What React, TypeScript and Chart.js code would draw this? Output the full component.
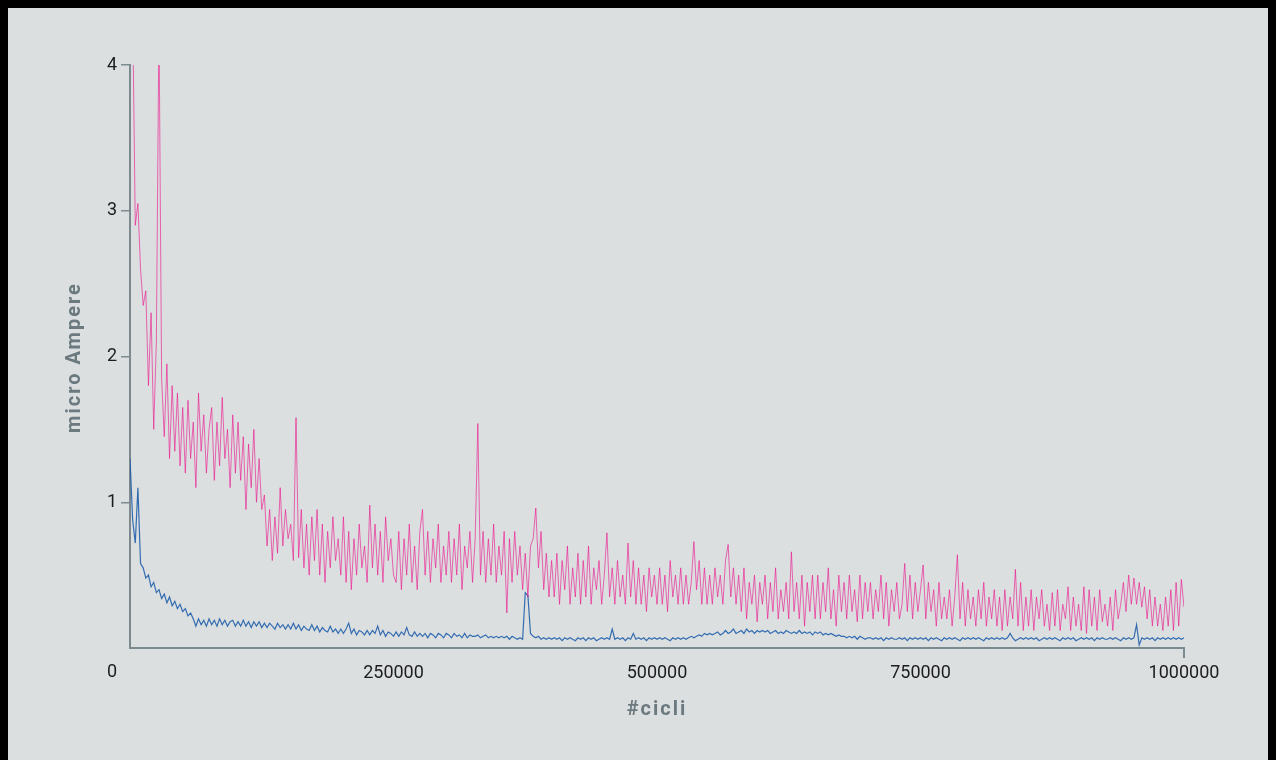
import React, { useEffect, useRef } from "react";
import { Chart, registerables } from "chart.js";

Chart.register(...registerables);

// sampling step along the x axis (cycles)
const cycleStep = 2500;

// series "pink" (upper curve), one value per 2500 cycles, 0 .. 1 000 000
const pinkValues = [
  4.5,
  4.4, 2.9, 3.05, 2.6, 2.35, 2.45, 1.8, 2.3, 1.5, 2.1,
  4.3, 1.85, 1.45, 1.95, 1.3, 1.8, 1.35, 1.75, 1.25, 1.65,
  1.2, 1.7, 1.3, 1.55, 1.1, 1.75, 1.35, 1.6, 1.2, 1.5,
  1.65, 1.15, 1.55, 1.25, 1.72, 1.3, 1.5, 1.1, 1.6, 1.2,
  1.55, 1.15, 1.45, 0.95, 1.4, 1.1, 1.5, 1.0, 1.3, 0.95,
  1.05, 0.7, 0.95, 0.6, 0.9, 0.65, 1.1, 0.7, 0.95, 0.75,
  0.85, 0.6, 1.58, 0.62, 0.95, 0.55, 0.85, 0.5, 0.9, 0.6,
  0.95, 0.5, 0.85, 0.45, 0.8, 0.55, 0.9, 0.6, 0.75, 0.5,
  0.9, 0.45, 0.8, 0.4, 0.75, 0.5, 0.85, 0.55, 0.7, 0.45,
  0.98, 0.55, 0.85, 0.5, 0.8, 0.45, 0.9, 0.6, 0.75, 0.5,
  0.45, 0.8, 0.4, 0.75, 0.5, 0.85, 0.45, 0.7, 0.4, 0.8,
  0.95, 0.5, 0.8, 0.45, 0.75, 0.55, 0.85, 0.45, 0.7, 0.5,
  0.8, 0.45, 0.75, 0.5, 0.85, 0.4, 0.7, 0.55, 0.8, 0.45,
  0.75, 1.54, 0.5, 0.8, 0.45, 0.75, 0.5, 0.85, 0.45, 0.7,
  0.5, 0.8, 0.24, 0.75, 0.45, 0.8, 0.5, 0.7, 0.4, 0.65,
  0.35, 0.7, 0.75, 0.96, 0.55, 0.8, 0.4, 0.65, 0.35, 0.6,
  0.35, 0.65, 0.3, 0.6, 0.4, 0.7, 0.3, 0.55, 0.35, 0.65,
  0.3, 0.6, 0.35, 0.7, 0.3, 0.55, 0.4, 0.6, 0.3, 0.5,
  0.79, 0.35, 0.55, 0.3, 0.6, 0.35, 0.5, 0.3, 0.72, 0.35,
  0.6, 0.3, 0.55, 0.3, 0.5, 0.25, 0.55, 0.35, 0.5, 0.3,
  0.55, 0.3, 0.5, 0.25, 0.6, 0.35, 0.5, 0.3, 0.55, 0.3,
  0.5, 0.3, 0.45, 0.73, 0.4, 0.6, 0.3, 0.55, 0.3, 0.5,
  0.3, 0.55, 0.35, 0.5, 0.3, 0.6, 0.71, 0.35, 0.55, 0.3,
  0.5, 0.25, 0.55, 0.2, 0.45, 0.3, 0.5, 0.18, 0.45, 0.3,
  0.5, 0.2, 0.45, 0.25, 0.55, 0.2, 0.4, 0.25, 0.45, 0.2,
  0.66, 0.25, 0.45, 0.2, 0.5, 0.15, 0.45, 0.25, 0.5, 0.2,
  0.5, 0.2, 0.45, 0.25, 0.55, 0.2, 0.4, 0.15, 0.5, 0.25,
  0.45, 0.2, 0.5, 0.25, 0.4, 0.18, 0.5, 0.2, 0.45, 0.25,
  0.45, 0.2, 0.4, 0.25, 0.5, 0.2, 0.45, 0.15, 0.4, 0.25,
  0.45, 0.2, 0.3, 0.58, 0.25, 0.5, 0.2, 0.45, 0.25, 0.4,
  0.57, 0.2, 0.45, 0.25, 0.4, 0.15, 0.45, 0.2, 0.35, 0.2,
  0.4, 0.15, 0.35, 0.64, 0.2, 0.45, 0.15, 0.4, 0.2, 0.35,
  0.15, 0.4, 0.2, 0.45, 0.15, 0.35, 0.2, 0.4, 0.15, 0.35,
  0.12, 0.4, 0.15, 0.35, 0.2, 0.54, 0.15, 0.45, 0.12, 0.35,
  0.15, 0.4, 0.12, 0.35, 0.2, 0.4, 0.15, 0.3, 0.12, 0.38,
  0.15, 0.4, 0.12, 0.3, 0.2, 0.42, 0.12, 0.35, 0.15, 0.3,
  0.12, 0.42, 0.1, 0.4, 0.15, 0.35, 0.12, 0.4, 0.18, 0.3,
  0.15, 0.35, 0.12, 0.4, 0.2, 0.3, 0.45, 0.25, 0.5, 0.3,
  0.48, 0.3, 0.45, 0.28, 0.42, 0.2, 0.4, 0.15, 0.35, 0.15,
  0.3, 0.12, 0.35, 0.15, 0.4, 0.12, 0.45, 0.15, 0.47, 0.28,
];

// series "blue" (lower curve), same sampling
const blueValues = [
  1.3,
  0.88, 0.72, 1.1, 0.58, 0.55, 0.48, 0.5, 0.42, 0.45, 0.38,
  0.4, 0.34, 0.37, 0.31, 0.35, 0.29, 0.32, 0.27, 0.3, 0.25,
  0.27, 0.22, 0.24, 0.2, 0.15, 0.2, 0.16, 0.19, 0.15, 0.2,
  0.16, 0.19, 0.15, 0.2, 0.16, 0.19, 0.15, 0.18, 0.19, 0.15,
  0.18, 0.15, 0.19, 0.15, 0.18, 0.14, 0.18, 0.15, 0.18, 0.14,
  0.17, 0.14, 0.17, 0.15, 0.13, 0.17, 0.14, 0.16, 0.13, 0.16,
  0.13, 0.17, 0.13, 0.16, 0.12, 0.15, 0.13, 0.12, 0.16, 0.12,
  0.15, 0.11, 0.14, 0.12, 0.11, 0.15, 0.11, 0.13, 0.1, 0.13,
  0.1, 0.13, 0.17, 0.1, 0.13, 0.09, 0.12, 0.11, 0.09, 0.12,
  0.09, 0.12, 0.1, 0.15, 0.09, 0.12, 0.08, 0.11, 0.1, 0.08,
  0.11, 0.08, 0.11, 0.09, 0.14, 0.09, 0.08, 0.11, 0.08, 0.1,
  0.08, 0.1, 0.07, 0.1, 0.09, 0.07, 0.1, 0.09, 0.07, 0.1,
  0.09, 0.07, 0.1, 0.08, 0.09, 0.07, 0.1, 0.07, 0.09, 0.08,
  0.08, 0.09, 0.07, 0.08, 0.09, 0.07, 0.08, 0.07, 0.08, 0.07,
  0.08, 0.07, 0.08, 0.06, 0.08, 0.07, 0.06, 0.07, 0.06, 0.38,
  0.36, 0.1, 0.08, 0.07, 0.08, 0.06, 0.07, 0.06, 0.07, 0.06,
  0.07, 0.06, 0.07, 0.05, 0.07, 0.06, 0.07, 0.06, 0.05, 0.07,
  0.06, 0.07, 0.05, 0.07, 0.06, 0.07, 0.05, 0.06, 0.07, 0.06,
  0.07, 0.06, 0.13, 0.06, 0.07, 0.06, 0.07, 0.05, 0.07, 0.06,
  0.1, 0.06, 0.07, 0.06, 0.07, 0.05, 0.07, 0.06, 0.07, 0.06,
  0.07, 0.06, 0.07, 0.06, 0.05, 0.07, 0.06, 0.07, 0.06, 0.07,
  0.06, 0.07, 0.08, 0.07, 0.08, 0.09, 0.08, 0.1, 0.09, 0.1,
  0.09, 0.1, 0.11, 0.09, 0.1, 0.12, 0.1, 0.11, 0.13, 0.1,
  0.11, 0.12, 0.1, 0.13, 0.11, 0.12, 0.1, 0.12, 0.11, 0.12,
  0.11, 0.12, 0.1, 0.11, 0.12, 0.1, 0.11, 0.1, 0.12, 0.11,
  0.1, 0.11, 0.1, 0.12, 0.1, 0.11, 0.1, 0.11, 0.09, 0.11,
  0.1, 0.11, 0.09, 0.1, 0.09, 0.1, 0.09, 0.08, 0.09, 0.08,
  0.08, 0.07, 0.08, 0.07, 0.08, 0.06, 0.08, 0.07, 0.06, 0.07,
  0.07, 0.06, 0.07, 0.06, 0.07, 0.05, 0.07, 0.06, 0.07, 0.06,
  0.06, 0.07, 0.06, 0.07, 0.05, 0.07, 0.06, 0.07, 0.06, 0.07,
  0.06, 0.07, 0.05, 0.07, 0.06, 0.07, 0.06, 0.05, 0.07, 0.06,
  0.07, 0.06, 0.07, 0.06, 0.05, 0.07, 0.06, 0.07, 0.06, 0.07,
  0.06, 0.07, 0.06, 0.05, 0.07, 0.06, 0.07, 0.06, 0.07, 0.06,
  0.07, 0.06, 0.07, 0.1, 0.07, 0.05, 0.06, 0.07, 0.06, 0.07,
  0.06, 0.07, 0.06, 0.07, 0.05, 0.06, 0.07, 0.06, 0.07, 0.06,
  0.07, 0.06, 0.05, 0.07, 0.06, 0.07, 0.06, 0.07, 0.05, 0.06,
  0.07, 0.06, 0.07, 0.06, 0.07, 0.05, 0.07, 0.06, 0.07, 0.06,
  0.06, 0.07, 0.06, 0.07, 0.06, 0.05, 0.07, 0.06, 0.07, 0.06,
  0.07, 0.16, 0.02, 0.07, 0.06, 0.07, 0.06, 0.07, 0.05, 0.07,
  0.06, 0.07, 0.06, 0.07, 0.06, 0.07, 0.06, 0.07, 0.06, 0.07,
];

const xTicks = [0, 250000, 500000, 750000, 1000000];
const yTicks = [0, 1, 2, 3, 4];
const xTitle = "#cicli";
const yTitle = "micro Ampere";

const axisColor = "#7c8a8f";
const tickTextColor = "#1c1c1c";
const titleColor = "#6c7a80";
const pinkColor = "rgba(236, 20, 140, 0.62)";
const blueColor = "rgba(22, 88, 168, 0.85)";
const bgColor = "#dbdfe0";

const toPoints = (vals: number[]) => vals.map((v, i) => ({ x: i * cycleStep, y: v }));

const extrasPlugin = {
  id: "extras",
  afterDraw(chart: any) {
    const { ctx, chartArea } = chart;
    ctx.save();
    // the "0" label sits below the axis corner
    ctx.font = "18px Roboto";
    ctx.fillStyle = tickTextColor;
    ctx.textAlign = "right";
    ctx.textBaseline = "middle";
    ctx.fillText(String(yTicks[0]), chartArea.left - 13, chartArea.bottom + 24);
    // axis titles
    ctx.font = "bold 20px Roboto";
    ctx.fillStyle = titleColor;
    (ctx as any).letterSpacing = "2px";
    ctx.textAlign = "center";
    ctx.textBaseline = "middle";
    ctx.fillText(xTitle, (chartArea.left + chartArea.right) / 2, chartArea.bottom + 62);
    ctx.translate(67, (chartArea.top + chartArea.bottom) / 2);
    ctx.rotate(-Math.PI / 2);
    ctx.fillText(yTitle, -1, 0);
    ctx.restore();
  },
};

export default function App() {
  const ref = useRef<HTMLCanvasElement | null>(null);
  useEffect(() => {
    document.documentElement.style.background = "#000";
    document.documentElement.style.overflow = "hidden";
    Chart.defaults.font.family = "Roboto";
    const chart = new Chart(ref.current as HTMLCanvasElement, {
      type: "line",
      data: {
        datasets: [
          {
            label: "pink",
            data: toPoints(pinkValues),
            borderColor: pinkColor,
            borderWidth: 1,
            pointRadius: 0,
            tension: 0,
          },
          {
            label: "blue",
            data: toPoints(blueValues),
            borderColor: blueColor,
            borderWidth: 1.2,
            pointRadius: 0,
            tension: 0,
          },
        ],
      },
      options: {
        animation: false,
        responsive: false,
        devicePixelRatio: 1,
        layout: { padding: { top: 57, right: 84, left: 0, bottom: 0 } },
        plugins: {
          legend: { display: false },
          tooltip: { enabled: false },
        },
        scales: {
          x: {
            type: "linear",
            min: xTicks[0],
            max: xTicks[xTicks.length - 1],
            afterFit: (s: any) => {
              s.height = 120;
            },
            afterBuildTicks: (s: any) => {
              s.ticks = xTicks.map((v) => ({ value: v }));
            },
            ticks: {
              padding: 5,
              color: tickTextColor,
              font: { size: 18, family: "Roboto" },
              maxRotation: 0,
              autoSkip: false,
              callback: (v: any) => (v === 0 ? "" : String(v)),
            },
            grid: {
              drawOnChartArea: false,
              drawTicks: true,
              tickLength: 10,
              lineWidth: 2,
              color: (c: any) =>
                c.tick && c.tick.value === xTicks[xTicks.length - 1] ? axisColor : "transparent",
            },
            border: { display: true, color: axisColor, width: 2 },
          },
          y: {
            type: "linear",
            min: yTicks[0],
            max: yTicks[yTicks.length - 1],
            afterFit: (s: any) => {
              s.width = 122;
            },
            afterBuildTicks: (s: any) => {
              s.ticks = yTicks.map((v) => ({ value: v }));
            },
            ticks: {
              padding: 4,
              color: tickTextColor,
              font: { size: 18, family: "Roboto" },
              callback: (v: any) => (v === 0 ? "" : String(v)),
            },
            grid: {
              drawOnChartArea: false,
              drawTicks: true,
              tickLength: 9,
              lineWidth: 1.5,
              color: (c: any) => (c.tick && c.tick.value === 0 ? "transparent" : axisColor),
            },
            border: { display: true, color: axisColor, width: 2 },
          },
        },
      },
      plugins: [extrasPlugin],
    } as any);
    return () => chart.destroy();
  }, []);
  return (
    <div style={{ width: 1260, height: 760, background: bgColor }}>
      <canvas ref={ref} width={1260} height={760} style={{ display: "block" }} />
    </div>
  );
}
